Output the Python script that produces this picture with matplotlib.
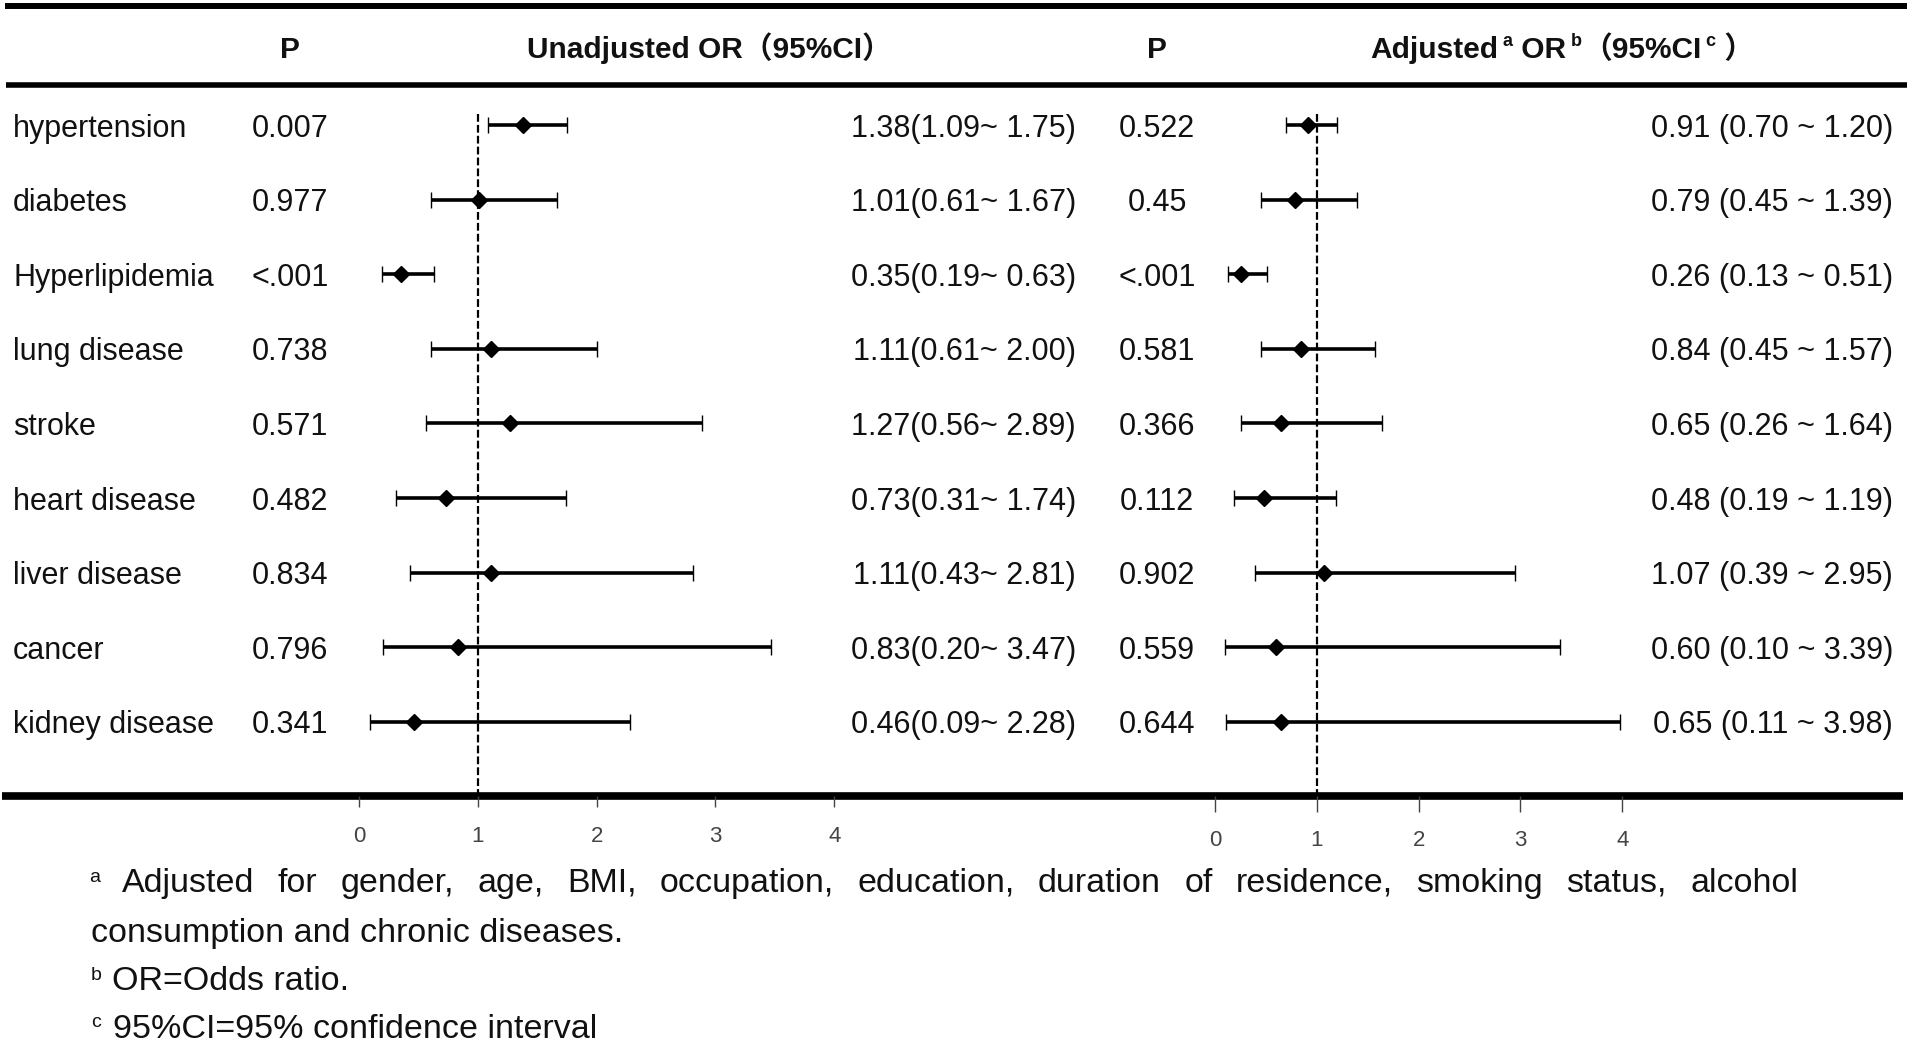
import matplotlib.pyplot as plt
import matplotlib.transforms as mtransforms

# ---- data ----
labels = ['hypertension', 'diabetes', 'Hyperlipidemia', 'lung disease', 'stroke',
          'heart disease', 'liver disease', 'cancer', 'kidney disease']
p_unadj = ['0.007', '0.977', '<.001', '0.738', '0.571', '0.482', '0.834', '0.796', '0.341']
or_unadj = [1.38, 1.01, 0.35, 1.11, 1.27, 0.73, 1.11, 0.83, 0.46]
lo_unadj = [1.09, 0.61, 0.19, 0.61, 0.56, 0.31, 0.43, 0.20, 0.09]
hi_unadj = [1.75, 1.67, 0.63, 2.00, 2.89, 1.74, 2.81, 3.47, 2.28]
p_adj = ['0.522', '0.45', '<.001', '0.581', '0.366', '0.112', '0.902', '0.559', '0.644']
or_adj = [0.91, 0.79, 0.26, 0.84, 0.65, 0.48, 1.07, 0.60, 0.65]
lo_adj = [0.70, 0.45, 0.13, 0.45, 0.26, 0.19, 0.39, 0.10, 0.11]
hi_adj = [1.20, 1.39, 0.51, 1.57, 1.64, 1.19, 2.95, 3.39, 3.98]
ticks = [0, 1, 2, 3, 4]

note1 = 'Adjusted for gender, age, BMI, occupation, education, duration of residence, smoking status, alcohol'
note2 = 'consumption and chronic diseases.'
note3 = 'OR=Odds ratio.'
note4 = '95%CI=95% confidence interval'

plt.rcParams['font.family'] = ['Liberation Sans', 'Noto Sans CJK SC', 'DejaVu Sans']

W, H = 1907, 1045
fig = plt.figure(figsize=(W / 100, H / 100), dpi=100)
bg = fig.add_axes([0, 0, 1, 1])
bg.set_xlim(0, W)
bg.set_ylim(H, 0)
bg.axis('off')

row_top, row_step = 125, 74.6
bottom_rule = 796
ylim = ((H - row_top) / row_step, -row_top / row_step)
bottom_row = (bottom_rule - row_top) / row_step


def forest(px0, unit, xmin, xmax, ors, los, his, tick_len, pad):
    left = px0 + xmin * unit
    ax = fig.add_axes([left / W, 0, (xmax - xmin) * unit / W, 1])
    ax.set_xlim(xmin, xmax)
    ax.set_ylim(*ylim)
    ax.patch.set_alpha(0)
    for s in ['top', 'left', 'right']:
        ax.spines[s].set_visible(False)
    ax.spines['bottom'].set_position(('data', bottom_row))
    ax.spines['bottom'].set_visible(False)
    ax.set_yticks([])
    ax.set_xticks(ticks)
    ax.tick_params(axis='x', direction='out', length=tick_len, width=1, color='#444',
                   pad=pad, labelsize=16, labelcolor='#444')
    rows = list(range(len(ors)))
    err = [[o - l for o, l in zip(ors, los)], [h - o for o, h in zip(ors, his)]]
    ax.errorbar(ors, rows, xerr=err, fmt='D', color='black', ms=8.5, mew=1,
                elinewidth=2.6, capsize=6, capthick=2.6, zorder=3)
    ax.vlines(1, -0.15, bottom_row, colors='black', linestyles=(0, (3.5, 1.4)), lw=1.6, zorder=2)
    return ax


axL = forest(359, 118.8, -2, 6, or_unadj, lo_unadj, hi_unadj, 8, 13.5)
axR = forest(1215, 101.8, -1, 6.5, or_adj, lo_adj, hi_adj, 11.5, 13)

# horizontal rules
bg.hlines(6, 5, W, colors='black', lw=4.3)
bg.hlines(84.5, 6, W, colors='black', lw=4.0)
bg.hlines(bottom_rule, 2, 1903, colors='black', lw=5.5, zorder=5)

# table columns
trans = mtransforms.blended_transform_factory(bg.transData, axL.transData)
txt = dict(fontsize=22, color='#111', va='center_baseline', transform=trans)
for i in range(len(labels)):
    bg.text(13, i, labels[i], ha='left', **txt)
    bg.text(290, i, p_unadj[i], ha='center', **txt)
    bg.text(1076, i, f'{or_unadj[i]:.2f}({lo_unadj[i]:.2f}~ {hi_unadj[i]:.2f})', ha='right', **txt)
    bg.text(1157, i, p_adj[i], ha='center', **txt)
    bg.text(1893, i, f'{or_adj[i]:.2f} ({lo_adj[i]:.2f} ~ {hi_adj[i]:.2f})', ha='right', **txt)

fig.canvas.draw()
rend = fig.canvas.get_renderer()


def width(t):
    return t.get_window_extent(rend).width


def run(x, y, pieces, weight='normal'):
    # pieces: (text, fontsize, raise in px)
    for s, size, dy in pieces:
        t = bg.text(x, y - dy, s, fontsize=size, fontweight=weight, color='#111',
                    ha='left', va='baseline')
        x += width(t)


# header
hb = dict(fontsize=21.5, fontweight='bold', color='#111', va='baseline')
bg.text(290, 58, 'P', ha='center', **hb)
bg.text(709, 58, 'Unadjusted OR（95%CI）', ha='center', **hb)
bg.text(1157, 58, 'P', ha='center', **hb)
run(1370, 58, [('Adjusted', 21.5, 0), (' a', 13, 12), (' OR', 21.5, 0), (' b', 13, 12),
               ('（95%CI', 21.5, 0), (' c', 13, 12), (' ）', 21.5, 0)], weight='bold')

# footnotes
fs = 24.5
bg.text(89, 882, 'a', fontsize=14, color='#111', va='baseline')
words = note1.split()
objs = [bg.text(0, 892, w, fontsize=fs, color='#111', va='baseline') for w in words]
ws = [width(o) for o in objs]
x0, x1 = 122, 1798
gap = (x1 - x0 - sum(ws)) / (len(words) - 1)
x = x0
for o, w in zip(objs, ws):
    o.set_x(x)
    x += w + gap
bg.text(91, 942, note2, fontsize=fs, color='#111', va='baseline')
bg.text(91, 980, 'b', fontsize=14, color='#111', va='baseline')
bg.text(112, 990, note3, fontsize=fs, color='#111', va='baseline')
bg.text(91, 1027, 'c', fontsize=14, color='#111', va='baseline')
bg.text(113, 1038, note4, fontsize=fs, color='#111', va='baseline')

fig.savefig('out.png', dpi=100)
